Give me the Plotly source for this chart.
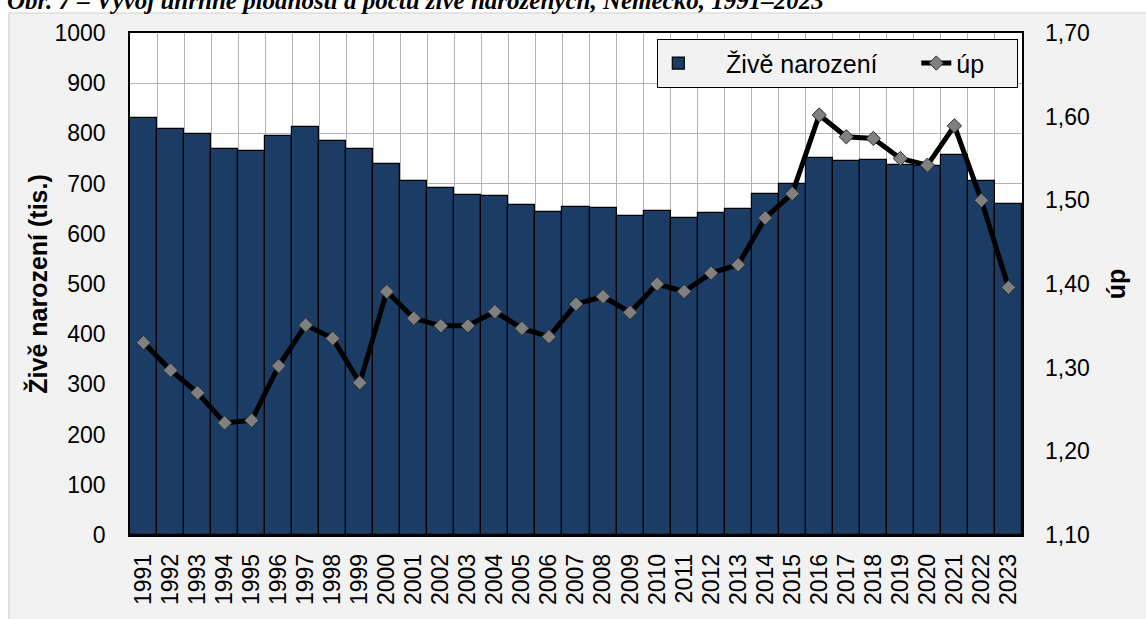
import plotly.graph_objects as go

# ---- data ----
years = [str(y) for y in range(1991, 2024)]
births = [831, 809, 799, 769, 765, 795, 812, 785, 769, 739,
          705, 691, 677, 675, 657, 644, 653, 651, 635, 645,
          632, 641, 649, 679, 700, 751, 745, 747, 738, 735,
          757, 705, 660]
tfr = [1.330, 1.297, 1.270, 1.234, 1.237, 1.302, 1.351, 1.335, 1.282, 1.391,
       1.359, 1.350, 1.350, 1.367, 1.347, 1.337, 1.376, 1.385, 1.366, 1.400,
       1.391, 1.413, 1.423, 1.479, 1.508, 1.602, 1.576, 1.574, 1.550, 1.542,
       1.589, 1.500, 1.396]

title_text = "Obr. 7 – Vývoj úhrnné plodnosti a počtu živě narozených, Německo, 1991–2023"
bar_name = "\u00a0\u00a0\u00a0\u00a0Živě narození"
line_name = "úp"
y1_title = "Živě narození (tis.)"
y2_title = "úp"

# ---- geometry ----
W, H = 1146, 619
L, R, T, B = 130, 124, 33, 84
pw, ph = W - L - R, H - T - B


def px(x):
    return (x - L) / pw


def py(y):
    return (H - B - y) / ph


FONT = "Liberation Sans, Arial, sans-serif"
GRID = "#b3b3b3"
TICK = 23

fig = go.Figure()
fig.add_trace(go.Bar(
    x=years, y=births, name=bar_name, legendwidth=213,
    marker=dict(color="#1a3c65", line=dict(color="black", width=1.2)),
))
fig.add_trace(go.Scatter(
    x=years, y=tfr, name=line_name, yaxis="y2", mode="lines+markers", legendwidth=55,
    line=dict(color="black", width=5),
    marker=dict(symbol="diamond", size=11, color="#808080",
                line=dict(color="#303030", width=1)),
))

shapes = [
    dict(type="rect", xref="paper", yref="paper", x0=px(-5), x1=px(W + 5), y0=py(13), y1=py(-5),
         fillcolor="white", line=dict(width=0), layer="below"),
    dict(type="rect", xref="paper", yref="paper", x0=px(-5), x1=px(9), y0=py(H + 5), y1=py(13),
         fillcolor="white", line=dict(width=0), layer="below"),
    dict(type="line", xref="paper", yref="paper", x0=px(9), x1=px(W + 5), y0=py(13), y1=py(13),
         line=dict(color="#d0d0d0", width=1.2), layer="below"),
    dict(type="line", xref="paper", yref="paper", x0=px(9), x1=px(9), y0=py(13), y1=py(H + 5),
         line=dict(color="#d0d0d0", width=1.2), layer="below"),
]

fig.update_layout(
    width=W, height=H,
    margin=dict(l=L, r=R, t=T, b=B, pad=0),
    paper_bgcolor="#f2f2f2", plot_bgcolor="white",
    separators=", ",
    bargap=0,
    font=dict(family=FONT, size=TICK, color="black"),
    showlegend=True,
    legend=dict(orientation="h", x=px(657), y=py(39), xanchor="left", yanchor="top",
                bgcolor="#f2f2f2", bordercolor="black", borderwidth=1.3,
                font=dict(family=FONT, size=25, color="black"), traceorder="normal"),
    shapes=shapes,
    annotations=[dict(text="<b><i>" + title_text + "</i></b>", xref="paper", yref="paper",
                      x=px(5), y=py(0), xanchor="left", yanchor="middle", showarrow=False,
                      font=dict(family="Liberation Serif, Times New Roman, serif", size=25,
                                color="black"))],
    xaxis=dict(type="category", tickson="boundaries", showgrid=True, gridcolor=GRID,
               gridwidth=1.3, showline=True, linecolor="black", linewidth=1.5, mirror=True,
               ticks="", tickangle=-90, tickfont=dict(size=23), range=[-0.5, 32.5],
               tickmode="linear", dtick=1, tick0=0,
               ticklabelstandoff=8, zeroline=False),
    yaxis=dict(range=[0, 1000], dtick=100, showgrid=True, gridcolor=GRID, gridwidth=1.3,
               showline=True, linecolor="black", linewidth=1.5, mirror=True, ticks="",
               ticklabelstandoff=18, tickfont=dict(size=TICK), zeroline=False,
               title=dict(text="<b>" + y1_title + "</b>", font=dict(size=25), standoff=0)),
    yaxis2=dict(overlaying="y", side="right", range=[1.1, 1.7], dtick=0.1, tickformat=".2f",
                showgrid=False, showline=False, ticks="", ticklabelstandoff=22,
                tickfont=dict(size=TICK), zeroline=False,
                title=dict(text="<b>" + y2_title + "</b>", font=dict(size=25), standoff=18)),
)

fig.write_html("out.html", config={"displayModeBar": False},
               post_script="document.body.style.margin='0';")
